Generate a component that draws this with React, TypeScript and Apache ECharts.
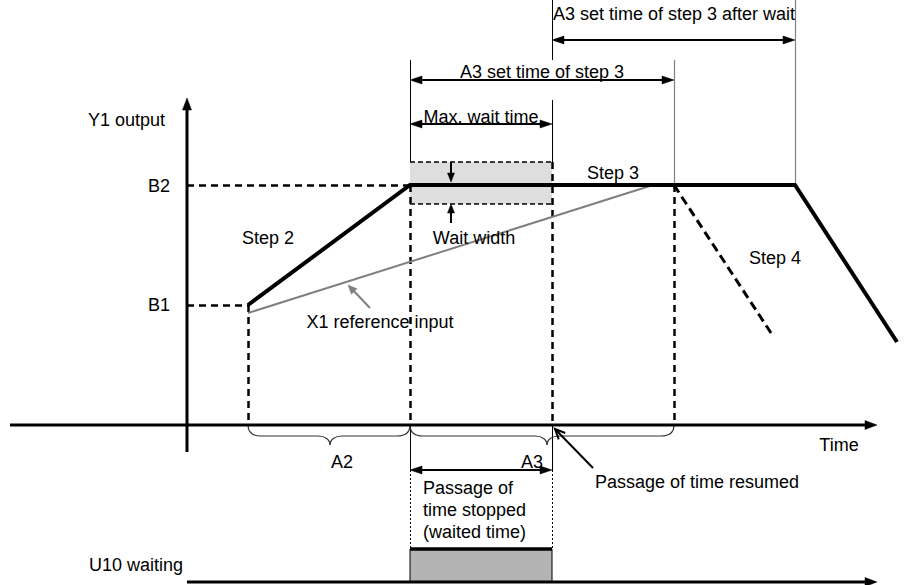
import React, { useEffect, useRef } from "react";
import * as echarts from "echarts";

const FONT = '"Liberation Sans", Arial, Helvetica, sans-serif';
const FONT_SIZE = 18;

// ---- Data (time units on x, output units on y) ----
const LEVEL_NAMES = ["B1", "B2"];
const LEVELS = [12, 24]; // B1, B2

// key times
const T_STEP2 = 6.1; // start of step 2
const T_STEP3 = 22.3; // start of step 3 / start of wait
const T_WAIT_END = 36.5; // end of wait (max. wait time)
const T_STEP3_END = 48.7; // end of step 3 without wait
const T_STEP3_END_WAIT = 60.8; // end of step 3 after wait

// Y1 output (with waiting)
const OUTPUT_T = [T_STEP2, T_STEP3, T_STEP3_END_WAIT, 71.0];
const OUTPUT_Y = [12, 24, 24, 8.3];

// step 4 as it would run without the wait
const STEP4_NOWAIT_T = [T_STEP3_END, 58.6];
const STEP4_NOWAIT_Y = [24, 8.9];

// X1 reference input
const REF_T = [T_STEP2, 46.6];
const REF_Y = [11.2, 24];

// wait width band around B2
const WAIT_WIDTH = [22.1, 26.3];

// braces below the time axis: [start, tip, end]
const BRACES = [
  [T_STEP2, 14.3, T_STEP3],
  [T_STEP3, 36.0, T_STEP3_END],
];

// ---- Layout (not data) ----
const X_RANGE = [-18.7, 72.3];
const Y_RANGE = [-16, 42.5];
const TOP = 42.5;
const DIM_Y = [38.5, 34.5, 30.1, -4.5];
const U10_Y = [-15.7, -12.4];

type Ann = { text: string; t: number; v: number; align: "left" | "center" | "right" };
const ANNOTATIONS: Ann[] = [
  { text: "Y1 output", t: -2.2, v: 30.5, align: "right" },
  { text: LEVEL_NAMES[1], t: -1.7, v: LEVELS[1] - 0.1, align: "right" },
  { text: LEVEL_NAMES[0], t: -1.7, v: LEVELS[0], align: "right" },
  { text: "Step 2", t: 8.1, v: 18.7, align: "center" },
  { text: "Wait width", t: 28.7, v: 18.7, align: "center" },
  { text: "Step 3", t: 42.6, v: 25.2, align: "center" },
  { text: "Step 4", t: 58.8, v: 16.7, align: "center" },
  { text: "X1 reference input", t: 19.3, v: 10.3, align: "center" },
  { text: "Max. wait time", t: 29.4, v: 30.8, align: "center" },
  { text: "A3 set time of step 3", t: 35.5, v: 35.3, align: "center" },
  { text: "A3 set time of step 3 after wait", t: 36.6, v: 41.1, align: "left" },
  { text: "A2", t: 15.5, v: -3.7, align: "center" },
  { text: "A3", t: 34.5, v: -3.7, align: "center" },
  { text: "Time", t: 65.2, v: -2.0, align: "center" },
  { text: "Passage of time resumed", t: 40.8, v: -5.7, align: "left" },
  { text: "Passage of", t: 23.6, v: -6.3, align: "left" },
  { text: "time stopped", t: 23.6, v: -8.5, align: "left" },
  { text: "(waited time)", t: 23.6, v: -10.7, align: "left" },
  { text: "U10 waiting", t: -0.4, v: -14.0, align: "right" },
];

const pts = (ts: number[], vs: number[]) => ts.map((t, i) => [t, vs[i]]);

function segSeries(name: string, segs: number[][], color: string, width: number, type: any, z: number) {
  return {
    name,
    type: "lines",
    coordinateSystem: "cartesian2d",
    silent: true,
    z,
    symbol: "none",
    lineStyle: { color, width, type, opacity: 1, cap: "butt" },
    data: segs.map((s) => ({ coords: [[s[0], s[1]], [s[2], s[3]]] })),
  };
}

function arrowSeries(
  name: string,
  rows: number[][],
  color: string,
  width: number,
  headLen: number,
  headW: number,
  open: boolean,
  z: number
) {
  return {
    name,
    type: "custom",
    coordinateSystem: "cartesian2d",
    silent: true,
    z,
    encode: { x: [0, 2], y: [1, 3] },
    data: rows,
    renderItem: (params: any, api: any) => {
      const p1 = api.coord([api.value(0), api.value(1)]);
      const p2 = api.coord([api.value(2), api.value(3)]);
      const hs = api.value(4);
      const he = api.value(5);
      const dx = p2[0] - p1[0];
      const dy = p2[1] - p1[1];
      const len = Math.hypot(dx, dy) || 1;
      const ux = dx / len;
      const uy = dy / len;
      const back = open ? 0 : headLen * 0.7;
      const a = hs ? [p1[0] + ux * back, p1[1] + uy * back] : p1;
      const b = he ? [p2[0] - ux * back, p2[1] - uy * back] : p2;
      const children: any[] = [
        {
          type: "line",
          shape: { x1: a[0], y1: a[1], x2: b[0], y2: b[1] },
          style: { stroke: color, lineWidth: width },
        },
      ];
      const head = (tip: number[], dirx: number, diry: number) => {
        const bx = tip[0] - dirx * headLen;
        const by = tip[1] - diry * headLen;
        const px = -diry;
        const py = dirx;
        return [
          [bx + (px * headW) / 2, by + (py * headW) / 2],
          [tip[0], tip[1]],
          [bx - (px * headW) / 2, by - (py * headW) / 2],
        ];
      };
      const addHead = (tip: number[], dirx: number, diry: number) => {
        const h = head(tip, dirx, diry);
        if (open) {
          children.push({
            type: "polyline",
            shape: { points: h },
            style: { stroke: color, lineWidth: width, fill: "none" },
          });
        } else {
          children.push({
            type: "polygon",
            shape: { points: h },
            style: { fill: color, stroke: color, lineWidth: 0.5 },
          });
        }
      };
      if (he) addHead(p2, ux, uy);
      if (hs) addHead(p1, -ux, -uy);
      return { type: "group", children };
    },
  };
}

function rectSeries(name: string, rows: number[][], fill: string, stroke: string | null, z: number) {
  return {
    name,
    type: "custom",
    coordinateSystem: "cartesian2d",
    silent: true,
    z,
    encode: { x: [0, 2], y: [1, 3] },
    data: rows,
    renderItem: (params: any, api: any) => {
      const p1 = api.coord([api.value(0), api.value(1)]);
      const p2 = api.coord([api.value(2), api.value(3)]);
      return {
        type: "rect",
        shape: {
          x: Math.min(p1[0], p2[0]),
          y: Math.min(p1[1], p2[1]),
          width: Math.abs(p2[0] - p1[0]),
          height: Math.abs(p2[1] - p1[1]),
        },
        style: { fill, stroke: stroke || "none", lineWidth: stroke ? 1 : 0 },
      };
    },
  };
}

function buildOption() {
  const [B1, B2] = LEVELS;
  const dashedGuides = [
    [0, B2, T_STEP3, B2],
    [0, B1, T_STEP2, B1],
    [T_STEP2, B1, T_STEP2, 0],
    [T_STEP3, B2, T_STEP3, 0],
    [T_WAIT_END, WAIT_WIDTH[1], T_WAIT_END, 0],
    [T_STEP3_END, B2, T_STEP3_END, 0],
  ];
  const bandEdges = [
    [T_STEP3, WAIT_WIDTH[1], T_WAIT_END, WAIT_WIDTH[1]],
    [T_STEP3, WAIT_WIDTH[0], T_WAIT_END, WAIT_WIDTH[0]],
  ];
  const thinBlack = [
    [T_STEP3, 36.5, T_STEP3, WAIT_WIDTH[1]],
    [T_WAIT_END, TOP, T_WAIT_END, 36.5],
    [T_WAIT_END, 32.5, T_WAIT_END, WAIT_WIDTH[1]],
    [T_STEP3, 0, T_STEP3, DIM_Y[3]],
    [T_WAIT_END, 0, T_WAIT_END, DIM_Y[3]],
  ];
  const thinGray = [
    [T_STEP3_END, 36.5, T_STEP3_END, B2],
    [T_STEP3_END_WAIT, TOP, T_STEP3_END_WAIT, B2],
  ];
  const dotted = [
    [T_STEP3, DIM_Y[3], T_STEP3, U10_Y[1]],
    [T_WAIT_END, DIM_Y[3], T_WAIT_END, U10_Y[1]],
  ];

  return {
    animation: false,
    backgroundColor: "#ffffff",
    grid: { left: 0, right: 0, top: 0, bottom: 0, containLabel: false },
    xAxis: { type: "value", min: X_RANGE[0], max: X_RANGE[1], show: false },
    yAxis: { type: "value", min: Y_RANGE[0], max: Y_RANGE[1], show: false },
    series: [
      rectSeries("Wait width band", [[T_STEP3, WAIT_WIDTH[0], T_WAIT_END, WAIT_WIDTH[1]]], "#dedede", null, 1),
      rectSeries("U10 waiting", [[T_STEP3, U10_Y[0], T_WAIT_END, U10_Y[1]]], "#b3b3b3", "#000000", 1),
      segSeries("Guides", dashedGuides, "#000000", 2.5, [7, 5], 2),
      segSeries("Band edges", bandEdges, "#000000", 1.5, [5, 3], 2),
      segSeries("Thin guides", thinBlack, "#000000", 1, "solid", 2),
      segSeries("Gray guides", thinGray, "#808080", 1.2, "solid", 2),
      segSeries("Dotted guides", dotted, "#000000", 1, [2, 2], 2),
      segSeries("U10 on", [[T_STEP3, U10_Y[1], T_WAIT_END, U10_Y[1]]], "#000000", 3.5, "solid", 3),
      {
        name: "X1 reference input",
        type: "line",
        silent: true,
        z: 3,
        symbol: "none",
        lineStyle: { color: "#808080", width: 2 },
        data: pts(REF_T, REF_Y),
      },
      {
        name: "Step 4 without wait",
        type: "line",
        silent: true,
        z: 3,
        symbol: "none",
        lineStyle: { color: "#000000", width: 3, type: [9, 5] },
        data: pts(STEP4_NOWAIT_T, STEP4_NOWAIT_Y),
      },
      {
        name: "Y1 output",
        type: "line",
        silent: true,
        z: 4,
        symbol: "none",
        lineStyle: { color: "#000000", width: 4, join: "miter" },
        data: pts(OUTPUT_T, OUTPUT_Y),
      },
      {
        type: "custom",
        name: "Braces",
        coordinateSystem: "cartesian2d",
        silent: true,
        z: 3,
        encode: { x: [0, 1, 2] },
        data: BRACES,
        renderItem: (params: any, api: any) => {
          const a = api.coord([api.value(0), 0]);
          const m = api.coord([api.value(1), 0]);
          const b = api.coord([api.value(2), 0]);
          const y0 = a[1];
          const X0 = a[0];
          const XT = m[0];
          const X1 = b[0];
          const d1 = 11;
          const yh = y0 + d1;
          const yt = y0 + 20;
          const r = 13;
          const rt = 12;
          const st = { stroke: "#333333", lineWidth: 1.2, fill: "none" };
          const bz = (x1: number, y1: number, c1x: number, c1y: number, c2x: number, c2y: number, x2: number, y2: number) => ({
            type: "bezierCurve",
            shape: { x1, y1, cpx1: c1x, cpy1: c1y, cpx2: c2x, cpy2: c2y, x2, y2 },
            style: st,
          });
          const ln = (x1: number, y1: number, x2: number, y2: number) => ({
            type: "line",
            shape: { x1, y1, x2, y2 },
            style: st,
          });
          return {
            type: "group",
            children: [
              bz(X0, y0, X0, y0 + 0.7 * d1, X0 + 0.35 * r, yh, X0 + r, yh),
              ln(X0 + r, yh, XT - rt, yh),
              bz(XT - rt, yh, XT - 0.4 * rt, yh, XT, yt - 0.6 * (yt - yh), XT, yt),
              bz(XT, yt, XT, yt - 0.6 * (yt - yh), XT + 0.4 * rt, yh, XT + rt, yh),
              ln(XT + rt, yh, X1 - r, yh),
              bz(X1 - r, yh, X1 - 0.35 * r, yh, X1, y0 + 0.7 * d1, X1, y0),
            ],
          };
        },
      },
      arrowSeries(
        "Axes",
        [
          [0, -2.7, 0, 32.7, 0, 1],
          [-17.7, 0, 69.0, 0, 0, 1],
          [0, U10_Y[0], 69.0, U10_Y[0], 0, 1],
        ],
        "#000000",
        3,
        12,
        9,
        false,
        5
      ),
      arrowSeries(
        "Dimensions",
        [
          [T_WAIT_END, DIM_Y[0], T_STEP3_END_WAIT, DIM_Y[0], 1, 1],
          [T_STEP3, DIM_Y[1], T_STEP3_END, DIM_Y[1], 1, 1],
          [T_STEP3, DIM_Y[2], T_WAIT_END, DIM_Y[2], 1, 1],
          [T_STEP3, DIM_Y[3], T_WAIT_END, DIM_Y[3], 1, 1],
        ],
        "#000000",
        2,
        12,
        8,
        false,
        5
      ),
      arrowSeries(
        "Wait width arrows",
        [
          [26.4, WAIT_WIDTH[1], 26.4, B2 + 0.3, 0, 1],
          [26.4, 20.2, 26.4, WAIT_WIDTH[0], 0, 1],
        ],
        "#000000",
        2,
        9,
        7,
        false,
        5
      ),
      arrowSeries("Resumed pointer", [[40.6, -4.3, 36.8, -0.4, 0, 1]], "#000000", 2, 10, 9, true, 5),
      arrowSeries("X1 pointer", [[18.3, 11.7, 16.1, 14.0, 0, 1]], "#808080", 2, 9, 8, false, 5),
      {
        type: "custom",
        name: "Annotations",
        coordinateSystem: "cartesian2d",
        silent: true,
        z: 6,
        encode: { x: 0, y: 1 },
        data: ANNOTATIONS.map((a) => [a.t, a.v]),
        renderItem: (params: any, api: any) => {
          const a = ANNOTATIONS[params.dataIndex];
          const p = api.coord([api.value(0), api.value(1)]);
          return {
            type: "text",
            x: p[0],
            y: p[1],
            style: {
              text: a.text,
              fill: "#000000",
              fontSize: FONT_SIZE,
              fontFamily: FONT,
              align: a.align,
              verticalAlign: "middle",
            },
          };
        },
      },
    ],
  };
}

export default function App() {
  const ref = useRef<HTMLDivElement>(null);
  useEffect(() => {
    if (!ref.current) return;
    const chart = echarts.init(ref.current, null, { renderer: "svg" });
    chart.setOption(buildOption() as any);
    return () => chart.dispose();
  }, []);
  return (
    <div
      ref={ref}
      style={{ position: "absolute", left: 0, top: 0, width: 910, height: 585, background: "#fff" }}
    />
  );
}
